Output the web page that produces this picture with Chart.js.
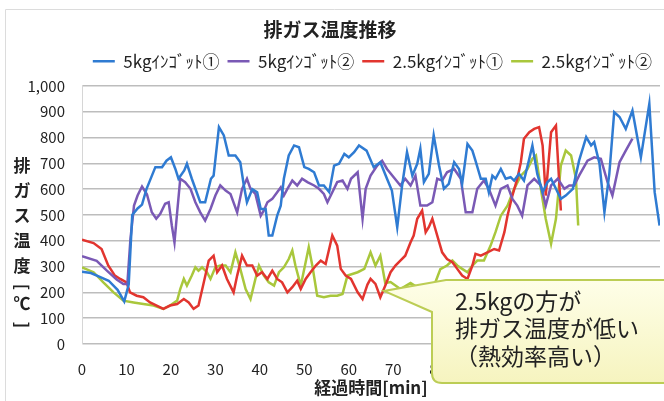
<!DOCTYPE html>
<html>
<head>
<meta charset="utf-8">
<script src="https://cdn.jsdelivr.net/npm/chart.js@4"></script>
<style>
  html, body { margin: 0; padding: 0; background: #fff; }
  #wrap { width: 664px; height: 401px; position: relative; }
</style>
</head>
<body>
<div id="wrap"><canvas id="gasChart" width="664" height="401"></canvas></div>
<script>
// series labels (half-width katakana, as in the original)
const seriesNames = ['5kgｲﾝｺﾞｯﾄ①', '5kgｲﾝｺﾞｯﾄ②', '2.5kgｲﾝｺﾞｯﾄ①', '2.5kgｲﾝｺﾞｯﾄ②'];
const seriesColors = ['#2f7bd2', '#7a59b5', '#e2352f', '#a9c73c'];

// elapsed time [min] / exhaust temperature [degC]
const blue1Time = [
  0, 2, 4, 6, 8, 9.5, 10.5, 11.3, 12.5, 13.5,
  14.5, 16.5, 18, 19, 20, 21, 21.7, 23, 23.6, 24.7,
  26.6, 27.7, 29, 29.6, 30.8, 31.9, 33, 34.5, 35.6, 36.4,
  37.1, 38.3, 39.4, 40.2, 41.3, 42, 42.8, 43.9, 44.7, 45.4,
  46.5, 47.7, 48.8, 50, 51, 52.2, 53.3, 54.4, 55.6, 56.7,
  57.8, 59, 60, 61.2, 62.3, 64, 65.6, 67.1, 68.6, 69.7,
  70.9, 72, 73.1, 74.3, 75.4, 76.1, 76.9, 78, 79.1, 80.3,
  81.4, 82.5, 83.7, 84.8, 85.5, 86.7, 87.8, 88.5, 89.7, 90.8,
  91.5, 92.3, 93, 94.2, 95.3, 96.4, 97.2, 98.3, 99.4, 100.6,
  101.3, 102.4, 103.6, 104.7, 105.5, 106.6, 107.7, 108.8, 110.4, 111.8,
  113.4, 114.5, 115.2, 116.4, 117.5, 118.6, 119.7, 120.9, 122.3, 123.8,
  125.7, 127.6, 128.8, 129.9
];
const blue1Temp = [
  280, 275, 260, 245, 210, 165, 230, 500, 525, 540,
  600, 685, 685, 710, 723, 678, 640, 672, 698, 640,
  549, 549, 640, 652, 840, 808, 730, 730, 704, 614,
  549, 600, 588, 523, 523, 420, 420, 497, 536, 640,
  730, 769, 762, 685, 678, 665, 614, 614, 588, 691,
  698, 736, 723, 743, 769, 749, 685, 704, 640, 594,
  452, 614, 743, 652, 698, 756, 627, 659, 808, 691,
  601, 620, 704, 678, 620, 775, 749, 710, 640, 640,
  588, 652, 640, 678, 640, 646, 633, 659, 633, 717,
  769, 659, 588, 627, 640, 601, 562, 575, 601, 710,
  801, 769, 782, 698, 510, 659, 898, 879, 833, 904,
  723, 930, 588, 459
];

const purple2Time = [
  0, 3.3, 5.6, 7.8, 9.3, 10.2, 10.9, 11.7, 12.5, 13.5,
  14.6, 15.7, 16.7, 17.6, 18.7, 19.5, 20.2, 20.8, 21.4, 22.1,
  23.2, 24.4, 25.5, 26.6, 27.7, 28.9, 30, 31.1, 32.3, 33.4,
  34.9, 36, 37.1, 37.9, 39, 40.2, 40.9, 41.7, 42.8, 43.9,
  44.7, 45.4, 46.2, 47.3, 48.4, 49.5, 50.7, 52.2, 53.3, 54.4,
  55.2, 56.3, 57.4, 58.6, 59.7, 60.5, 62, 63.1, 63.8, 64.9,
  66.4, 67.5, 68.6, 70.1, 71.6, 72.7, 73.9, 75, 76.1, 77.6,
  78.8, 79.9, 81, 82.1, 83.7, 85.2, 86.3, 87.8, 88.9, 90.4,
  91.5, 93, 94.2, 95.7, 96.8, 97.9, 99, 100.2, 101.7, 103.2,
  104.3, 105.5, 107, 108.5, 109.6, 110.7, 111.8, 113.7, 115.2, 116.7,
  118.2, 119.3, 120.9, 122.3, 123.8
];
const purple2Temp = [
  340, 322, 284, 250, 232, 232, 407, 536, 575, 610,
  580, 510, 485, 504, 543, 549, 459, 394, 510, 640,
  627, 601, 549, 510, 478, 523, 575, 614, 594, 581,
  510, 601, 640, 601, 581, 497, 517, 549, 562, 588,
  607, 575, 601, 633, 614, 640, 627, 614, 601, 581,
  549, 588, 627, 633, 601, 640, 665, 485, 601, 652,
  691, 710, 678, 646, 614, 640, 614, 652, 536, 536,
  549, 640, 633, 665, 678, 640, 510, 510, 601, 633,
  601, 536, 601, 614, 562, 536, 497, 614, 640, 614,
  536, 614, 640, 601, 614, 614, 652, 710, 723, 717,
  627, 575, 704, 749, 795
];

const red1Time = [
  0, 2.6, 4.4, 5.9, 7.4, 8.6, 10, 10.8, 12.3, 13.8,
  15.3, 16.8, 18.3, 19.8, 21.4, 22.9, 24, 25.1, 26.2, 27.4,
  28.5, 29.6, 30.4, 31.5, 32.6, 34.1, 34.9, 36, 37.1, 38.3,
  39.4, 40.5, 41.7, 42.8, 43.9, 45, 46.2, 47.3, 48.4, 49.2,
  50.3, 51.4, 52.6, 53.7, 54.8, 56.3, 57.4, 58.2, 59.3, 60.5,
  62, 63.1, 64.2, 64.9, 66, 67.1, 68.2, 69.4, 70.5, 71.6,
  72.7, 73.9, 74.6, 75.4, 76.5, 77.3, 78, 78.8, 79.9, 81,
  82.1, 83.3, 84.4, 85.5, 86.7, 87.8, 88.5, 89.7, 91.2, 92.7,
  93.8, 95, 95.7, 96.8, 97.9, 98.7, 99.4, 100.6, 101.7, 102.8,
  103.6, 104.3, 105.5, 106.6, 107.7
];
const red1Temp = [
  404, 391, 368, 304, 265, 252, 239, 200, 187, 181,
  161, 149, 136, 149, 155, 174, 161, 136, 149, 239,
  323, 342, 278, 304, 252, 200, 265, 342, 304, 304,
  265, 278, 252, 284, 252, 239, 200, 220, 245, 213,
  252, 278, 304, 323, 310, 420, 381, 291, 265, 252,
  200, 174, 230, 252, 233, 181, 226, 278, 304, 323,
  342, 394, 420, 485, 517, 433, 452, 485, 420, 355,
  329, 317, 291, 265, 252, 304, 349, 342, 355, 368,
  362, 433, 497, 575, 640, 704, 795, 820, 833, 840,
  769, 575, 820, 846, 517
];

const green2Time = [
  0, 2.6, 4.8, 7.1, 9.3, 11.6, 13.8, 16.1, 18.3, 19.8,
  21.4, 22.1, 22.9, 23.6, 24.7, 25.5, 26.2, 27, 28.1, 28.9,
  30, 31.1, 32.3, 33.4, 34.5, 35.6, 36.8, 37.9, 39, 39.8,
  40.9, 42, 43.2, 44.3, 45.4, 46.5, 47.3, 48, 49.2, 50.3,
  51, 51.8, 52.9, 54.4, 55.9, 57.4, 58.6, 59.7, 60.8, 62,
  63.5, 64.9, 66, 67.1, 68.2, 69.4, 71.6, 73.9, 75.4, 76.6,
  78.4, 79.5, 80.6, 82.1, 83.3, 84.4, 85.5, 86.7, 87.8, 88.9,
  90.4, 91.9, 93, 94.2, 95.7, 97.2, 98.7, 100.2, 101.3, 102.1,
  103.2, 104.3, 105.5, 106.6, 107.7, 108.8, 110, 111.1, 111.6
];
const green2Temp = [
  297, 278, 239, 200, 168, 161, 155, 149, 136, 149,
  168, 213, 252, 226, 265, 297, 284, 297, 278, 252,
  297, 304, 304, 278, 355, 291, 213, 174, 252, 304,
  265, 239, 226, 278, 297, 329, 362, 304, 226, 317,
  375, 304, 187, 181, 187, 187, 194, 265, 271, 278,
  291, 355, 304, 342, 236, 240, 213, 236, 220, 198,
  185, 240, 290, 304, 323, 304, 291, 278, 304, 323,
  323, 381, 433, 497, 536, 601, 652, 678, 717, 730,
  601, 485, 388, 485, 691, 749, 730, 640, 459
];

const yTitleChars = ['排', 'ガ', 'ス', '温', '度', '[', '℃', ']'];
const calloutLines = ['2.5kgの方が', '排ガス温度が低い', '（熱効率高い）'];

const narrowFont = "'Liberation Sans Narrow', 'Noto Sans CJK JP', sans-serif";
const jpFont = "'Noto Sans CJK JP', sans-serif";

function toPoints(times, temps) {
  return times.map((t, i) => ({ x: t, y: temps[i] }));
}

const seriesData = [
  toPoints(blue1Time, blue1Temp),
  toPoints(purple2Time, purple2Temp),
  toPoints(red1Time, red1Temp),
  toPoints(green2Time, green2Temp)
];

// push the plot area down a little below the legend
const legendSpacer = {
  id: 'legendSpacer',
  beforeInit(chart) {
    const origFit = chart.legend.fit;
    chart.legend.fit = function () {
      origFit.call(this);
      this.height += 6;
    };
  }
};

// faint picture frame
const frame = {
  id: 'frame',
  beforeDraw(chart) {
    const ctx = chart.ctx;
    ctx.save();
    ctx.strokeStyle = '#dcdcdc';
    ctx.lineWidth = 1;
    ctx.beginPath();
    ctx.moveTo(5.5, 401);
    ctx.lineTo(5.5, 9.5);
    ctx.lineTo(664, 9.5);
    ctx.stroke();
    ctx.restore();
  }
};

// vertical stacked y axis title
const verticalTitle = {
  id: 'verticalTitle',
  afterDraw(chart) {
    const ctx = chart.ctx;
    ctx.save();
    ctx.font = 'bold 17px ' + jpFont;
    ctx.fillStyle = '#222';
    ctx.textAlign = 'center';
    ctx.textBaseline = 'middle';
    let y = 166;
    yTitleChars.forEach(ch => {
      if (ch === '[' || ch === ']') {
        ctx.save();
        ctx.translate(22, y - 4);
        ctx.rotate(Math.PI / 2);
        ctx.fillText(ch, 0, 0);
        ctx.restore();
        y += 13;
      } else {
        ctx.fillText(ch, 22, y);
        y += 25;
      }
    });
    ctx.restore();
  }
};

// speech bubble annotation
const callout = {
  id: 'callout',
  afterDraw(chart) {
    const ctx = chart.ctx;
    const left = 432, top = 280, right = 690, bottom = 383, r = 10;
    ctx.save();
    const grad = ctx.createLinearGradient(0, top, 0, bottom);
    grad.addColorStop(0, '#fefee8');
    grad.addColorStop(1, '#f6f4bf');
    ctx.beginPath();
    ctx.moveTo(446, top);
    ctx.lineTo(right - r, top);
    ctx.lineTo(right, bottom);
    ctx.lineTo(left + r, bottom);
    ctx.quadraticCurveTo(left, bottom, left, bottom - r);
    ctx.lineTo(left, 312);
    ctx.lineTo(384, 291);
    ctx.closePath();
    ctx.fillStyle = grad;
    ctx.fill();
    ctx.strokeStyle = '#bccd55';
    ctx.lineWidth = 2;
    ctx.stroke();

    ctx.font = '23px ' + jpFont;
    ctx.fillStyle = '#222';
    ctx.textAlign = 'left';
    ctx.textBaseline = 'middle';
    calloutLines.forEach((line, i) => {
      ctx.fillText(line, 455, 301 + i * 27.5);
    });
    ctx.restore();
  }
};

new Chart(document.getElementById('gasChart'), {
  type: 'scatter',
  data: {
    datasets: seriesNames.map((name, i) => ({
      label: name,
      data: seriesData[i],
      showLine: true,
      borderColor: seriesColors[i],
      backgroundColor: seriesColors[i],
      borderWidth: 2.5,
      pointRadius: 0,
      pointHoverRadius: 0,
      tension: 0
    }))
  },
  options: {
    responsive: false,
    animation: false,
    locale: 'en-US',
    layout: { padding: { left: 0, right: 4, top: 0, bottom: 0 } },
    plugins: {
      title: {
        display: true,
        text: '排ガス温度推移',
        color: '#222',
        font: { family: jpFont, size: 19, weight: 'bold' },
        padding: { top: 18, bottom: 4 }
      },
      legend: {
        display: true,
        align: 'end',
        labels: {
          color: '#222',
          font: { family: narrowFont, size: 17 },
          usePointStyle: true,
          pointStyle: 'line',
          pointStyleWidth: 22,
          boxHeight: 17,
          padding: 8
        }
      },
      tooltip: { enabled: false }
    },
    scales: {
      x: {
        type: 'linear',
        min: 0,
        max: 130,
        grid: { display: false, drawTicks: false },
        border: { display: false },
        ticks: {
          stepSize: 10,
          padding: 16,
          color: '#222',
          font: { family: narrowFont, size: 15 }
        },
        title: {
          display: true,
          text: '経過時間[min]',
          color: '#222',
          font: { family: jpFont, size: 17, weight: 'bold' },
          padding: { top: 0, bottom: 3 }
        },
        afterFit: (scale) => {
          scale.height = 57;
          scale.paddingRight = 0;
          scale.paddingLeft = 0;
        }
      },
      y: {
        min: 0,
        max: 1000,
        grid: { color: '#bdbdbd', lineWidth: 1.5, drawTicks: false },
        border: { display: true, color: '#d6d6d6' },
        ticks: {
          stepSize: 100,
          padding: 17,
          color: '#222',
          font: { family: narrowFont, size: 15 }
        },
        afterFit: (scale) => {
          scale.width = 82;
        }
      }
    }
  },
  plugins: [legendSpacer, frame, verticalTitle, callout]
});
</script>
</body>
</html>
